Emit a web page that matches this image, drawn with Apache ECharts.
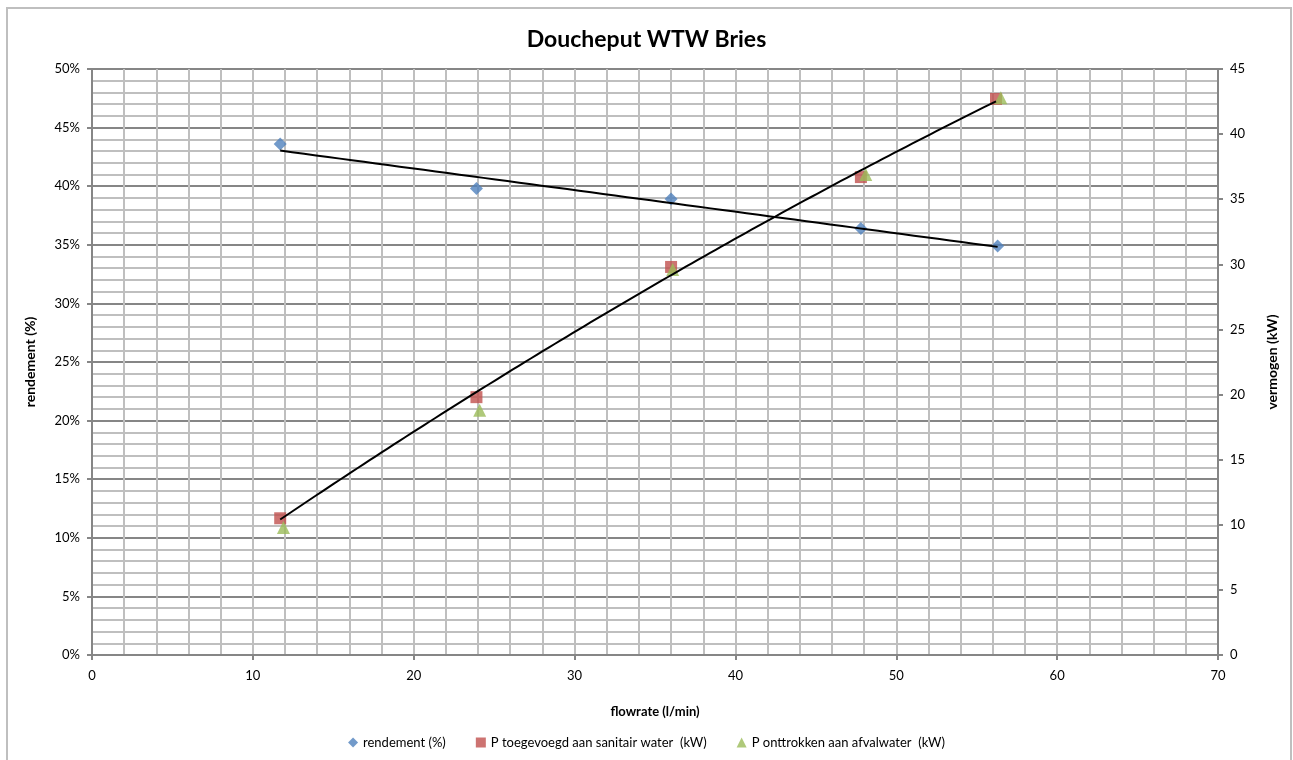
<!DOCTYPE html>
<html>
<head>
<meta charset="utf-8">
<script src="https://cdn.jsdelivr.net/npm/echarts@6/dist/echarts.min.js"></script>
<style>
  html, body { margin: 0; padding: 0; background: #fff; }
  #main { width: 1293px; height: 760px; }
</style>
</head>
<body>
<div id="main"></div>
<script>
// meetpunten
var flowRendement = [11.7, 23.9, 36.0, 47.8, 56.3];
var rendement = [43.6, 39.8, 38.9, 36.4, 34.9];          // %
var flowToegevoegd = [11.7, 23.9, 36.0, 47.8, 56.2];
var pToegevoegd = [10.5, 19.8, 29.8, 36.7, 42.7];        // kW
var flowOnttrokken = [11.9, 24.1, 36.1, 48.1, 56.5];
var pOnttrokken = [9.8, 18.8, 29.6, 36.9, 42.8];         // kW

var FONT = 'Lato';

function pairs(xs, ys) {
    return xs.map(function (x, i) { return [x, ys[i]]; });
}

// kleinste kwadraten polynoom (graad 1 of 2), zoals de Excel trendlijn
function polyFit(xs, ys, degree) {
    var n = degree + 1;
    var A = [], b = [];
    for (var r = 0; r < n; r++) {
        A.push([]);
        for (var c = 0; c < n; c++) {
            var s = 0;
            xs.forEach(function (x) { s += Math.pow(x, r + c); });
            A[r].push(s);
        }
        var t = 0;
        xs.forEach(function (x, i) { t += ys[i] * Math.pow(x, r); });
        b.push(t);
    }
    // gauss eliminatie
    for (var i = 0; i < n; i++) {
        for (var k = i + 1; k < n; k++) {
            var f = A[k][i] / A[i][i];
            for (var j = i; j < n; j++) A[k][j] -= f * A[i][j];
            b[k] -= f * b[i];
        }
    }
    var coef = new Array(n);
    for (var i2 = n - 1; i2 >= 0; i2--) {
        var s2 = b[i2];
        for (var j2 = i2 + 1; j2 < n; j2++) s2 -= A[i2][j2] * coef[j2];
        coef[i2] = s2 / A[i2][i2];
    }
    return coef;
}

function trendLine(xs, ys, degree) {
    var coef = polyFit(xs, ys, degree);
    var lo = Math.min.apply(null, xs), hi = Math.max.apply(null, xs);
    var out = [];
    for (var k = 0; k <= 60; k++) {
        var x = lo + (hi - lo) * k / 60;
        var y = 0;
        coef.forEach(function (c, p) { y += c * Math.pow(x, p); });
        out.push([x, y]);
    }
    return out;
}

var myChart = echarts.init(document.getElementById('main'));

var axisName = { fontFamily: FONT, fontSize: 14, fontWeight: 'bold', color: '#000' };
var tickFont = { fontFamily: FONT, fontSize: 13, color: '#000' };

var option = {
    backgroundColor: '#fff',
    animation: false,
    title: {
        text: 'Doucheput WTW Bries',
        left: 'center',
        top: 23,
        textStyle: { fontFamily: FONT, fontSize: 23, fontWeight: 'bold', color: '#000' }
    },
    graphic: [{
        type: 'rect',
        shape: { x: 7, y: 8, width: 1284, height: 770 },
        style: { fill: 'none', stroke: '#bfbfbf', lineWidth: 2 },
        silent: true
    }],
    legend: {
        bottom: 6,
        left: 'center',
        itemWidth: 10,
        itemHeight: 10,
        itemGap: 30,
        textStyle: { fontFamily: FONT, fontSize: 13, color: '#000' },
        data: [
            { name: 'rendement (%)', icon: 'diamond' },
            { name: 'P toegevoegd aan sanitair water  (kW)', icon: 'rect' },
            { name: 'P onttrokken aan afvalwater  (kW)', icon: 'triangle' }
        ]
    },
    grid: { left: 92, right: 75, top: 69, bottom: 105 },
    xAxis: {
        type: 'value',
        min: 0, max: 70, interval: 10,
        name: 'flowrate (l/min)',
        nameLocation: 'middle',
        nameGap: 50,
        nameTextStyle: Object.assign({}, axisName, { fontSize: 13 }),
        axisLine: { show: true, lineStyle: { color: '#868686', width: 2 } },
        axisTick: { show: true, length: 5, lineStyle: { color: '#868686', width: 2 } },
        axisLabel: Object.assign({ margin: 14 }, tickFont),
        splitLine: { show: true, lineStyle: { color: '#bfbfbf', width: 2 } },
        minorTick: { show: false, splitNumber: 5 },
        minorSplitLine: { show: true, lineStyle: { color: '#bfbfbf', width: 2 } }
    },
    yAxis: [{
        type: 'value',
        min: 0, max: 50, interval: 5,
        name: 'rendement (%)',
        nameLocation: 'middle',
        nameGap: 55,
        nameTextStyle: axisName,
        axisLine: { show: true, lineStyle: { color: '#868686', width: 2 } },
        axisTick: { show: true, length: 5, lineStyle: { color: '#868686', width: 2 } },
        axisLabel: Object.assign({ margin: 12, formatter: '{value}%' }, tickFont),
        splitLine: { show: true, lineStyle: { color: '#868686', width: 2 } },
        minorTick: { show: false, splitNumber: 5 },
        minorSplitLine: { show: true, lineStyle: { color: '#bfbfbf', width: 2 } }
    }, {
        type: 'value',
        min: 0, max: 45, interval: 5,
        name: 'vermogen (kW)',
        nameLocation: 'middle',
        nameGap: 47,
        nameRotate: 90,
        nameTextStyle: axisName,
        axisLine: { show: true, lineStyle: { color: '#868686', width: 2 } },
        axisTick: { show: true, length: 5, lineStyle: { color: '#868686', width: 2 } },
        axisLabel: Object.assign({ margin: 12 }, tickFont),
        splitLine: { show: false }
    }],
    series: [{
        name: 'rendement (%)',
        type: 'scatter',
        symbol: 'diamond',
        symbolSize: 13,
        itemStyle: { color: '#4f81bd' },
        data: pairs(flowRendement, rendement),
        z: 3
    }, {
        name: 'P toegevoegd aan sanitair water  (kW)',
        type: 'scatter',
        yAxisIndex: 1,
        symbol: 'rect',
        symbolSize: 12,
        itemStyle: { color: '#c0504d' },
        data: pairs(flowToegevoegd, pToegevoegd),
        z: 3
    }, {
        name: 'P onttrokken aan afvalwater  (kW)',
        type: 'scatter',
        yAxisIndex: 1,
        symbol: 'triangle',
        symbolSize: 13,
        itemStyle: { color: '#9bbb59' },
        data: pairs(flowOnttrokken, pOnttrokken),
        z: 3
    }, {
        // lineaire trendlijn rendement
        type: 'line',
        showSymbol: false,
        silent: true,
        lineStyle: { color: '#000', width: 2 },
        data: trendLine(flowRendement, rendement, 1),
        z: 4
    }, {
        // polynoom trendlijn vermogen
        type: 'line',
        yAxisIndex: 1,
        showSymbol: false,
        silent: true,
        smooth: true,
        lineStyle: { color: '#000', width: 2 },
        data: trendLine(flowToegevoegd, pToegevoegd, 2),
        z: 4
    }]
};

myChart.setOption(option);
</script>
</body>
</html>
